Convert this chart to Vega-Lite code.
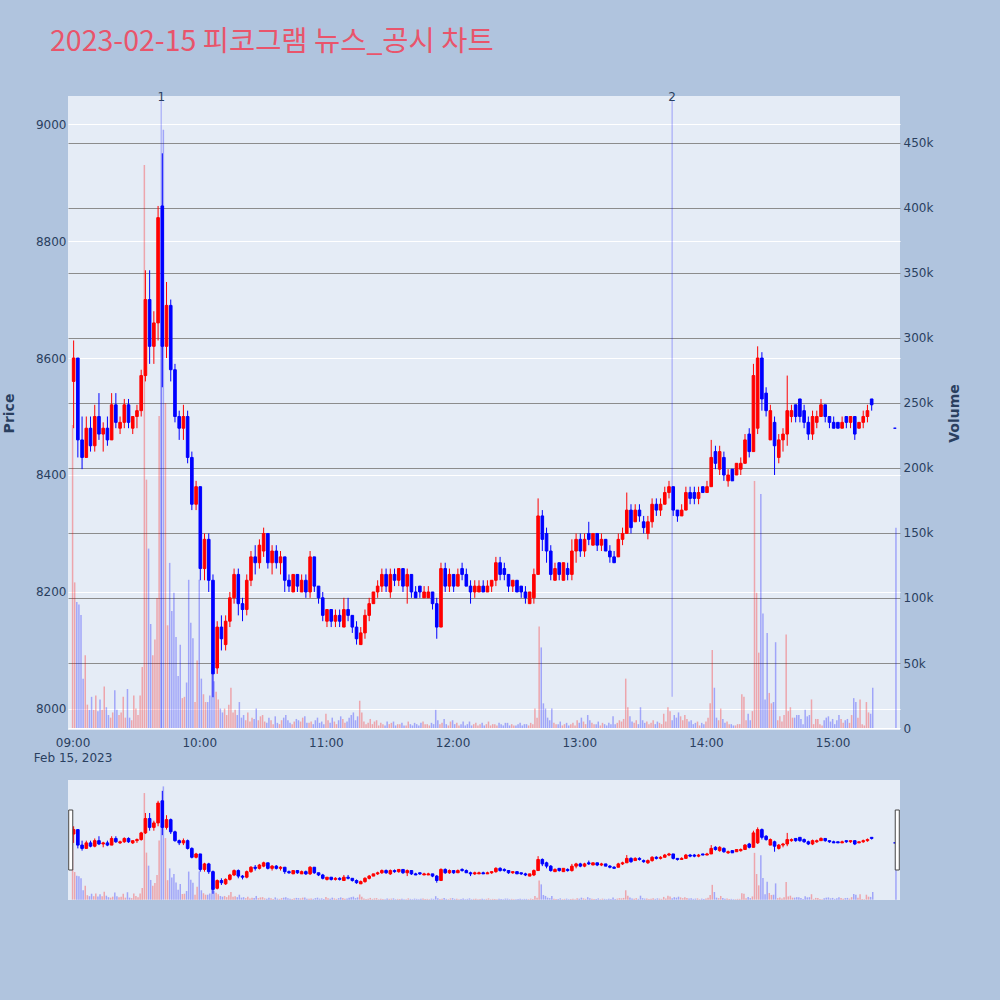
{
"$schema": "https://vega.github.io/schema/vega-lite/v6.json",
"background": "#B0C4DE",
"padding": {"left": 2, "top": 27, "right": 38, "bottom": 105},
"title": {"text": "2023-02-15 피코그램 뉴스_공시 차트", "anchor": "start", "frame": "group", "font": "Noto Sans CJK KR", "fontSize": 28.5, "fontWeight": "normal", "color": "#E9546B", "offset": 35, "dx": -18},
"datasets": {
"px": [
{"t":"2023-02-15T09:00","o":8560,"h":8630,"l":8480,"c":8600,"v1":233000,"v2":112000},
{"t":"2023-02-15T09:02","o":8600,"h":8600,"l":8430,"c":8460,"v1":97000,"v2":95000},
{"t":"2023-02-15T09:04","o":8460,"h":8500,"l":8410,"c":8430,"v1":87000,"v2":38000},
{"t":"2023-02-15T09:06","o":8430,"h":8500,"l":8430,"c":8480,"v1":56000,"v2":18000},
{"t":"2023-02-15T09:08","o":8480,"h":8500,"l":8440,"c":8450,"v1":14000,"v2":24000},
{"t":"2023-02-15T09:10","o":8450,"h":8520,"l":8440,"c":8500,"v1":14000,"v2":25000},
{"t":"2023-02-15T09:12","o":8500,"h":8540,"l":8460,"c":8470,"v1":13000,"v2":22000},
{"t":"2023-02-15T09:14","o":8470,"h":8490,"l":8440,"c":8480,"v1":14000,"v2":32000},
{"t":"2023-02-15T09:16","o":8480,"h":8500,"l":8450,"c":8460,"v1":16000,"v2":10000},
{"t":"2023-02-15T09:18","o":8460,"h":8540,"l":8460,"c":8520,"v1":8000,"v2":12000},
{"t":"2023-02-15T09:20","o":8520,"h":8540,"l":8480,"c":8490,"v1":29000,"v2":14000},
{"t":"2023-02-15T09:22","o":8480,"h":8500,"l":8470,"c":8490,"v1":10000,"v2":12000},
{"t":"2023-02-15T09:24","o":8490,"h":8530,"l":8480,"c":8520,"v1":24000,"v2":8000},
{"t":"2023-02-15T09:26","o":8520,"h":8530,"l":8480,"c":8490,"v1":30000,"v2":8000},
{"t":"2023-02-15T09:28","o":8480,"h":8500,"l":8470,"c":8500,"v1":6000,"v2":25000},
{"t":"2023-02-15T09:30","o":8500,"h":8520,"l":8480,"c":8510,"v1":15000,"v2":10000},
{"t":"2023-02-15T09:32","o":8510,"h":8580,"l":8500,"c":8570,"v1":25000,"v2":47000},
{"t":"2023-02-15T09:34","o":8570,"h":8750,"l":8560,"c":8700,"v1":433000,"v2":191000},
{"t":"2023-02-15T09:36","o":8700,"h":8750,"l":8590,"c":8620,"v1":138000,"v2":80000},
{"t":"2023-02-15T09:38","o":8620,"h":8680,"l":8590,"c":8660,"v1":56000,"v2":68000},
{"t":"2023-02-15T09:40","o":8660,"h":8860,"l":8630,"c":8840,"v1":100000,"v2":240000},
{"t":"2023-02-15T09:42","o":8860,"h":8950,"l":8550,"c":8620,"v1":300000,"v2":460000},
{"t":"2023-02-15T09:44","o":8620,"h":8730,"l":8600,"c":8690,"v1":250000,"v2":79000},
{"t":"2023-02-15T09:46","o":8690,"h":8700,"l":8560,"c":8580,"v1":127000,"v2":90000},
{"t":"2023-02-15T09:48","o":8580,"h":8590,"l":8490,"c":8500,"v1":104000,"v2":70000},
{"t":"2023-02-15T09:50","o":8500,"h":8510,"l":8460,"c":8480,"v1":40000,"v2":64000},
{"t":"2023-02-15T09:52","o":8480,"h":8520,"l":8460,"c":8500,"v1":23000,"v2":24000},
{"t":"2023-02-15T09:54","o":8500,"h":8510,"l":8420,"c":8430,"v1":35000,"v2":114000},
{"t":"2023-02-15T09:56","o":8430,"h":8440,"l":8340,"c":8350,"v1":81000,"v2":69000},
{"t":"2023-02-15T09:58","o":8350,"h":8390,"l":8340,"c":8380,"v1":20000,"v2":52000},
{"t":"2023-02-15T10:00","o":8380,"h":8380,"l":8220,"c":8240,"v1":114000,"v2":38000},
{"t":"2023-02-15T10:02","o":8240,"h":8300,"l":8220,"c":8290,"v1":26000,"v2":20000},
{"t":"2023-02-15T10:04","o":8290,"h":8300,"l":8200,"c":8220,"v1":20000,"v2":25000},
{"t":"2023-02-15T10:06","o":8220,"h":8230,"l":8020,"c":8060,"v1":42000,"v2":36000},
{"t":"2023-02-15T10:08","o":8070,"h":8150,"l":8060,"c":8140,"v1":28000,"v2":22000},
{"t":"2023-02-15T10:10","o":8140,"h":8160,"l":8100,"c":8120,"v1":15000,"v2":12000},
{"t":"2023-02-15T10:12","o":8110,"h":8160,"l":8100,"c":8150,"v1":15000,"v2":10000},
{"t":"2023-02-15T10:14","o":8150,"h":8200,"l":8140,"c":8190,"v1":18000,"v2":31000},
{"t":"2023-02-15T10:16","o":8190,"h":8240,"l":8180,"c":8230,"v1":12000,"v2":14000},
{"t":"2023-02-15T10:18","o":8230,"h":8240,"l":8160,"c":8180,"v1":10000,"v2":20000},
{"t":"2023-02-15T10:20","o":8180,"h":8190,"l":8150,"c":8170,"v1":8000,"v2":10000},
{"t":"2023-02-15T10:22","o":8170,"h":8230,"l":8160,"c":8220,"v1":6000,"v2":12000},
{"t":"2023-02-15T10:24","o":8220,"h":8270,"l":8210,"c":8260,"v1":5000,"v2":8000},
{"t":"2023-02-15T10:26","o":8260,"h":8280,"l":8230,"c":8250,"v1":7000,"v2":15000},
{"t":"2023-02-15T10:28","o":8250,"h":8290,"l":8240,"c":8280,"v1":6000,"v2":9000},
{"t":"2023-02-15T10:30","o":8270,"h":8310,"l":8260,"c":8300,"v1":10000,"v2":5000},
{"t":"2023-02-15T10:32","o":8300,"h":8300,"l":8240,"c":8250,"v1":4000,"v2":8000},
{"t":"2023-02-15T10:34","o":8250,"h":8280,"l":8230,"c":8270,"v1":6000,"v2":3000},
{"t":"2023-02-15T10:36","o":8270,"h":8280,"l":8240,"c":8250,"v1":9000,"v2":4000},
{"t":"2023-02-15T10:38","o":8250,"h":8270,"l":8230,"c":8260,"v1":3000,"v2":6000},
{"t":"2023-02-15T10:40","o":8260,"h":8260,"l":8200,"c":8220,"v1":8000,"v2":10000},
{"t":"2023-02-15T10:42","o":8220,"h":8230,"l":8200,"c":8210,"v1":6000,"v2":4000},
{"t":"2023-02-15T10:44","o":8200,"h":8230,"l":8200,"c":8230,"v1":3000,"v2":5000},
{"t":"2023-02-15T10:46","o":8230,"h":8230,"l":8200,"c":8210,"v1":7000,"v2":6000},
{"t":"2023-02-15T10:48","o":8200,"h":8230,"l":8200,"c":8220,"v1":5000,"v2":8000},
{"t":"2023-02-15T10:50","o":8220,"h":8230,"l":8190,"c":8200,"v1":9000,"v2":4000},
{"t":"2023-02-15T10:52","o":8200,"h":8270,"l":8190,"c":8260,"v1":4000,"v2":5000},
{"t":"2023-02-15T10:54","o":8260,"h":8260,"l":8200,"c":8210,"v1":3000,"v2":6000},
{"t":"2023-02-15T10:56","o":8210,"h":8210,"l":8180,"c":8190,"v1":8000,"v2":4000},
{"t":"2023-02-15T10:58","o":8190,"h":8200,"l":8150,"c":8160,"v1":5000,"v2":3000},
{"t":"2023-02-15T11:00","o":8150,"h":8170,"l":8140,"c":8170,"v1":11000,"v2":6000},
{"t":"2023-02-15T11:02","o":8170,"h":8170,"l":8140,"c":8150,"v1":4000,"v2":8000},
{"t":"2023-02-15T11:04","o":8150,"h":8170,"l":8140,"c":8160,"v1":5000,"v2":3000},
{"t":"2023-02-15T11:06","o":8160,"h":8170,"l":8140,"c":8150,"v1":6000,"v2":9000},
{"t":"2023-02-15T11:08","o":8140,"h":8190,"l":8140,"c":8170,"v1":7000,"v2":4000},
{"t":"2023-02-15T11:10","o":8170,"h":8190,"l":8150,"c":8160,"v1":5000,"v2":8000},
{"t":"2023-02-15T11:12","o":8160,"h":8160,"l":8130,"c":8140,"v1":10000,"v2":12000},
{"t":"2023-02-15T11:14","o":8140,"h":8150,"l":8110,"c":8120,"v1":6000,"v2":9000},
{"t":"2023-02-15T11:16","o":8110,"h":8140,"l":8110,"c":8130,"v1":21000,"v2":12000},
{"t":"2023-02-15T11:18","o":8130,"h":8170,"l":8120,"c":8160,"v1":5000,"v2":3000},
{"t":"2023-02-15T11:20","o":8160,"h":8190,"l":8150,"c":8180,"v1":4000,"v2":7000},
{"t":"2023-02-15T11:22","o":8180,"h":8200,"l":8180,"c":8200,"v1":3000,"v2":5000},
{"t":"2023-02-15T11:24","o":8200,"h":8220,"l":8190,"c":8210,"v1":6000,"v2":2000},
{"t":"2023-02-15T11:26","o":8210,"h":8240,"l":8200,"c":8230,"v1":4000,"v2":3000},
{"t":"2023-02-15T11:28","o":8230,"h":8240,"l":8200,"c":8210,"v1":2000,"v2":5000},
{"t":"2023-02-15T11:30","o":8200,"h":8240,"l":8190,"c":8230,"v1":3000,"v2":4000},
{"t":"2023-02-15T11:32","o":8230,"h":8240,"l":8210,"c":8220,"v1":5000,"v2":2000},
{"t":"2023-02-15T11:34","o":8220,"h":8240,"l":8210,"c":8240,"v1":3000,"v2":3000},
{"t":"2023-02-15T11:36","o":8240,"h":8240,"l":8200,"c":8210,"v1":4000,"v2":2000},
{"t":"2023-02-15T11:38","o":8210,"h":8240,"l":8180,"c":8230,"v1":2000,"v2":5000},
{"t":"2023-02-15T11:40","o":8230,"h":8230,"l":8190,"c":8200,"v1":3000,"v2":2000},
{"t":"2023-02-15T11:42","o":8200,"h":8210,"l":8190,"c":8190,"v1":4000,"v2":3000},
{"t":"2023-02-15T11:44","o":8210,"h":8210,"l":8190,"c":8200,"v1":2000,"v2":4000},
{"t":"2023-02-15T11:46","o":8190,"h":8210,"l":8190,"c":8200,"v1":5000,"v2":3000},
{"t":"2023-02-15T11:48","o":8190,"h":8210,"l":8190,"c":8200,"v1":3000,"v2":2000},
{"t":"2023-02-15T11:50","o":8200,"h":8200,"l":8170,"c":8180,"v1":4000,"v2":3000},
{"t":"2023-02-15T11:52","o":8180,"h":8190,"l":8120,"c":8140,"v1":14000,"v2":6000},
{"t":"2023-02-15T11:54","o":8140,"h":8250,"l":8140,"c":8240,"v1":3000,"v2":4000},
{"t":"2023-02-15T11:56","o":8240,"h":8250,"l":8200,"c":8210,"v1":7000,"v2":3000},
{"t":"2023-02-15T11:58","o":8210,"h":8240,"l":8200,"c":8230,"v1":2000,"v2":5000},
{"t":"2023-02-15T12:00","o":8230,"h":8230,"l":8200,"c":8210,"v1":6000,"v2":3000},
{"t":"2023-02-15T12:02","o":8210,"h":8240,"l":8210,"c":8230,"v1":4000,"v2":2000},
{"t":"2023-02-15T12:04","o":8240,"h":8250,"l":8220,"c":8230,"v1":3000,"v2":5000},
{"t":"2023-02-15T12:06","o":8230,"h":8240,"l":8210,"c":8210,"v1":2000,"v2":3000},
{"t":"2023-02-15T12:08","o":8210,"h":8220,"l":8180,"c":8200,"v1":5000,"v2":2000},
{"t":"2023-02-15T12:10","o":8200,"h":8220,"l":8190,"c":8210,"v1":3000,"v2":4000},
{"t":"2023-02-15T12:12","o":8200,"h":8220,"l":8200,"c":8210,"v1":2000,"v2":3000},
{"t":"2023-02-15T12:14","o":8210,"h":8220,"l":8200,"c":8200,"v1":4000,"v2":2000},
{"t":"2023-02-15T12:16","o":8200,"h":8220,"l":8200,"c":8210,"v1":3000,"v2":5000},
{"t":"2023-02-15T12:18","o":8210,"h":8220,"l":8200,"c":8220,"v1":2000,"v2":3000},
{"t":"2023-02-15T12:20","o":8220,"h":8260,"l":8210,"c":8250,"v1":3000,"v2":2000},
{"t":"2023-02-15T12:22","o":8250,"h":8260,"l":8220,"c":8230,"v1":4000,"v2":3000},
{"t":"2023-02-15T12:24","o":8240,"h":8250,"l":8220,"c":8230,"v1":2000,"v2":4000},
{"t":"2023-02-15T12:26","o":8230,"h":8230,"l":8200,"c":8210,"v1":4000,"v2":2000},
{"t":"2023-02-15T12:28","o":8210,"h":8220,"l":8200,"c":8220,"v1":3000,"v2":2000},
{"t":"2023-02-15T12:30","o":8220,"h":8220,"l":8200,"c":8200,"v1":2000,"v2":3000},
{"t":"2023-02-15T12:32","o":8210,"h":8210,"l":8190,"c":8200,"v1":4000,"v2":2000},
{"t":"2023-02-15T12:34","o":8200,"h":8210,"l":8180,"c":8190,"v1":3000,"v2":3000},
{"t":"2023-02-15T12:36","o":8180,"h":8200,"l":8180,"c":8200,"v1":2000,"v2":4000},
{"t":"2023-02-15T12:38","o":8190,"h":8240,"l":8180,"c":8230,"v1":3000,"v2":15000},
{"t":"2023-02-15T12:40","o":8230,"h":8360,"l":8230,"c":8330,"v1":8000,"v2":78000},
{"t":"2023-02-15T12:42","o":8330,"h":8340,"l":8270,"c":8290,"v1":62000,"v2":19000},
{"t":"2023-02-15T12:44","o":8300,"h":8310,"l":8250,"c":8270,"v1":15000,"v2":8000},
{"t":"2023-02-15T12:46","o":8270,"h":8280,"l":8220,"c":8230,"v1":6000,"v2":15000},
{"t":"2023-02-15T12:48","o":8220,"h":8250,"l":8220,"c":8240,"v1":4000,"v2":3000},
{"t":"2023-02-15T12:50","o":8250,"h":8250,"l":8220,"c":8230,"v1":3000,"v2":5000},
{"t":"2023-02-15T12:52","o":8220,"h":8250,"l":8220,"c":8250,"v1":2000,"v2":3000},
{"t":"2023-02-15T12:54","o":8240,"h":8250,"l":8220,"c":8230,"v1":4000,"v2":2000},
{"t":"2023-02-15T12:56","o":8230,"h":8290,"l":8220,"c":8270,"v1":3000,"v2":4000},
{"t":"2023-02-15T12:58","o":8270,"h":8300,"l":8250,"c":8290,"v1":2000,"v2":6000},
{"t":"2023-02-15T13:00","o":8290,"h":8300,"l":8260,"c":8270,"v1":4000,"v2":8000},
{"t":"2023-02-15T13:02","o":8270,"h":8300,"l":8260,"c":8290,"v1":5000,"v2":3000},
{"t":"2023-02-15T13:04","o":8300,"h":8320,"l":8280,"c":8290,"v1":10000,"v2":6000},
{"t":"2023-02-15T13:06","o":8280,"h":8300,"l":8280,"c":8300,"v1":4000,"v2":3000},
{"t":"2023-02-15T13:08","o":8300,"h":8300,"l":8270,"c":8280,"v1":3000,"v2":5000},
{"t":"2023-02-15T13:10","o":8280,"h":8300,"l":8270,"c":8290,"v1":2000,"v2":4000},
{"t":"2023-02-15T13:12","o":8290,"h":8290,"l":8270,"c":8270,"v1":3000,"v2":2000},
{"t":"2023-02-15T13:14","o":8270,"h":8280,"l":8250,"c":8260,"v1":4000,"v2":3000},
{"t":"2023-02-15T13:16","o":8260,"h":8270,"l":8250,"c":8250,"v1":9000,"v2":3000},
{"t":"2023-02-15T13:18","o":8260,"h":8300,"l":8260,"c":8290,"v1":4000,"v2":6000},
{"t":"2023-02-15T13:20","o":8290,"h":8310,"l":8280,"c":8300,"v1":5000,"v2":7000},
{"t":"2023-02-15T13:22","o":8300,"h":8370,"l":8300,"c":8340,"v1":38000,"v2":16000},
{"t":"2023-02-15T13:24","o":8340,"h":8350,"l":8300,"c":8310,"v1":9000,"v2":5000},
{"t":"2023-02-15T13:26","o":8320,"h":8350,"l":8320,"c":8340,"v1":4000,"v2":6000},
{"t":"2023-02-15T13:28","o":8340,"h":8350,"l":8320,"c":8330,"v1":3000,"v2":16000},
{"t":"2023-02-15T13:30","o":8320,"h":8330,"l":8300,"c":8310,"v1":6000,"v2":4000},
{"t":"2023-02-15T13:32","o":8300,"h":8330,"l":8290,"c":8320,"v1":5000,"v2":3000},
{"t":"2023-02-15T13:34","o":8320,"h":8360,"l":8310,"c":8350,"v1":4000,"v2":6000},
{"t":"2023-02-15T13:36","o":8350,"h":8360,"l":8330,"c":8340,"v1":3000,"v2":5000},
{"t":"2023-02-15T13:38","o":8340,"h":8360,"l":8330,"c":8350,"v1":4000,"v2":3000},
{"t":"2023-02-15T13:40","o":8350,"h":8380,"l":8350,"c":8370,"v1":11000,"v2":5000},
{"t":"2023-02-15T13:42","o":8370,"h":8390,"l":8360,"c":8380,"v1":16000,"v2":13000},
{"t":"2023-02-15T13:44","o":8380,"h":8380,"l":8330,"c":8340,"v1":6000,"v2":10000},
{"t":"2023-02-15T13:46","o":8340,"h":8340,"l":8320,"c":8330,"v1":8000,"v2":12000},
{"t":"2023-02-15T13:48","o":8330,"h":8350,"l":8330,"c":8340,"v1":9000,"v2":6000},
{"t":"2023-02-15T13:50","o":8340,"h":8380,"l":8340,"c":8370,"v1":10000,"v2":7000},
{"t":"2023-02-15T13:52","o":8370,"h":8380,"l":8350,"c":8360,"v1":5000,"v2":6000},
{"t":"2023-02-15T13:54","o":8370,"h":8380,"l":8350,"c":8360,"v1":3000,"v2":4000},
{"t":"2023-02-15T13:56","o":8360,"h":8380,"l":8350,"c":8370,"v1":5000,"v2":2000},
{"t":"2023-02-15T13:58","o":8380,"h":8380,"l":8370,"c":8370,"v1":4000,"v2":3000},
{"t":"2023-02-15T14:00","o":8370,"h":8390,"l":8370,"c":8380,"v1":5000,"v2":8000},
{"t":"2023-02-15T14:02","o":8380,"h":8460,"l":8380,"c":8430,"v1":19000,"v2":60000},
{"t":"2023-02-15T14:04","o":8440,"h":8450,"l":8410,"c":8420,"v1":31000,"v2":8000},
{"t":"2023-02-15T14:06","o":8410,"h":8450,"l":8400,"c":8440,"v1":6000,"v2":15000},
{"t":"2023-02-15T14:08","o":8430,"h":8440,"l":8390,"c":8400,"v1":7000,"v2":4000},
{"t":"2023-02-15T14:10","o":8390,"h":8410,"l":8380,"c":8400,"v1":5000,"v2":3000},
{"t":"2023-02-15T14:12","o":8410,"h":8410,"l":8390,"c":8390,"v1":3000,"v2":2000},
{"t":"2023-02-15T14:14","o":8400,"h":8420,"l":8400,"c":8420,"v1":2000,"v2":3000},
{"t":"2023-02-15T14:16","o":8410,"h":8430,"l":8400,"c":8420,"v1":3000,"v2":26000},
{"t":"2023-02-15T14:18","o":8420,"h":8470,"l":8420,"c":8460,"v1":24000,"v2":6000},
{"t":"2023-02-15T14:20","o":8470,"h":8480,"l":8430,"c":8440,"v1":11000,"v2":6000},
{"t":"2023-02-15T14:22","o":8440,"h":8590,"l":8440,"c":8570,"v1":13000,"v2":190000},
{"t":"2023-02-15T14:24","o":8480,"h":8620,"l":8470,"c":8600,"v1":104000,"v2":58000},
{"t":"2023-02-15T14:26","o":8600,"h":8610,"l":8510,"c":8530,"v1":180000,"v2":88000},
{"t":"2023-02-15T14:28","o":8540,"h":8550,"l":8500,"c":8510,"v1":22000,"v2":73000},
{"t":"2023-02-15T14:30","o":8460,"h":8520,"l":8460,"c":8510,"v1":27000,"v2":19000},
{"t":"2023-02-15T14:32","o":8490,"h":8500,"l":8400,"c":8450,"v1":20000,"v2":66000},
{"t":"2023-02-15T14:34","o":8430,"h":8470,"l":8420,"c":8460,"v1":6000,"v2":9000},
{"t":"2023-02-15T14:36","o":8460,"h":8480,"l":8440,"c":8470,"v1":5000,"v2":10000},
{"t":"2023-02-15T14:38","o":8470,"h":8570,"l":8450,"c":8510,"v1":72000,"v2":13000},
{"t":"2023-02-15T14:40","o":8500,"h":8520,"l":8490,"c":8510,"v1":16000,"v2":8000},
{"t":"2023-02-15T14:42","o":8520,"h":8520,"l":8490,"c":8500,"v1":8000,"v2":10000},
{"t":"2023-02-15T14:44","o":8530,"h":8530,"l":8490,"c":8500,"v1":10000,"v2":7000},
{"t":"2023-02-15T14:46","o":8510,"h":8520,"l":8480,"c":8490,"v1":3000,"v2":14000},
{"t":"2023-02-15T14:48","o":8490,"h":8500,"l":8460,"c":8470,"v1":9000,"v2":10000},
{"t":"2023-02-15T14:50","o":8470,"h":8510,"l":8460,"c":8500,"v1":22000,"v2":3000},
{"t":"2023-02-15T14:52","o":8490,"h":8510,"l":8480,"c":8500,"v1":7000,"v2":7000},
{"t":"2023-02-15T14:54","o":8500,"h":8530,"l":8500,"c":8520,"v1":3000,"v2":2000},
{"t":"2023-02-15T14:56","o":8520,"h":8520,"l":8490,"c":8500,"v1":6000,"v2":8000},
{"t":"2023-02-15T14:58","o":8500,"h":8500,"l":8480,"c":8490,"v1":9000,"v2":5000},
{"t":"2023-02-15T15:00","o":8490,"h":8500,"l":8480,"c":8480,"v1":7000,"v2":3000},
{"t":"2023-02-15T15:02","o":8490,"h":8490,"l":8480,"c":8480,"v1":6000,"v2":10000},
{"t":"2023-02-15T15:04","o":8480,"h":8500,"l":8480,"c":8490,"v1":7000,"v2":4000},
{"t":"2023-02-15T15:06","o":8500,"h":8500,"l":8480,"c":8490,"v1":6000,"v2":7000},
{"t":"2023-02-15T15:08","o":8490,"h":8500,"l":8480,"c":8500,"v1":4000,"v2":10000},
{"t":"2023-02-15T15:10","o":8500,"h":8500,"l":8460,"c":8470,"v1":23000,"v2":20000},
{"t":"2023-02-15T15:12","o":8480,"h":8490,"l":8480,"c":8490,"v1":8000,"v2":22000},
{"t":"2023-02-15T15:14","o":8490,"h":8510,"l":8480,"c":8500,"v1":3000,"v2":2000},
{"t":"2023-02-15T15:16","o":8500,"h":8520,"l":8490,"c":8510,"v1":20000,"v2":12000},
{"t":"2023-02-15T15:18","o":8530,"h":8530,"l":8510,"c":8520,"v1":11000,"v2":31000},
{"t":"2023-02-15T15:29","o":8480,"h":8480,"l":8480,"c":8480,"v2":154000}
],
"ev": [
{"t":"2023-02-15T09:42","n":"1","b":0,"e":483000},
{"t":"2023-02-15T13:44","n":"2","b":24000,"e":483000}
],
"hd": [
{"a":"2023-02-15T08:58:10","b":"2023-02-15T09:00:05","lo":8235,"hi":8777},
{"a":"2023-02-15T15:29:40","b":"2023-02-15T15:31:35","lo":8235,"hi":8777}
]
},
"spacing": 50,
"bounds": "flush",
"vconcat": [
{
"width": 832, "height": 634,
"encoding": {"x": {"field": "t", "type": "temporal", "scale": {"padding": 0, "nice": false, "domain": [{"year":2023,"month":2,"date":15,"hours":8,"minutes":57,"seconds":50},{"year":2023,"month":2,"date":15,"hours":15,"minutes":31,"seconds":55}]}, "axis": {"title": null, "grid": false, "format": "%H:%M", "labelFlush": false, "labelPadding": 7, "labelLineHeight": 15, "values": [{"year":2023,"month":2,"date":15,"hours":9},{"year":2023,"month":2,"date":15,"hours":10},{"year":2023,"month":2,"date":15,"hours":11},{"year":2023,"month":2,"date":15,"hours":12},{"year":2023,"month":2,"date":15,"hours":13},{"year":2023,"month":2,"date":15,"hours":14},{"year":2023,"month":2,"date":15,"hours":15}], "labelExpr": "hours(datum.value) == 9 ? [datum.label, 'Feb 15, 2023'] : datum.label"}}},
"layer": [
{"layer": [
{"data": {"name": "px"}, "mark": {"type": "bar", "size": 1.5, "opacity": 0.3}, "encoding": {"y": {"field": "v1", "type": "quantitative", "scale": {"domain": [-1500, 486000], "nice": false, "zero": false}, "axis": {"orient": "right", "title": "Volume", "values": [0,50000,100000,150000,200000,250000,300000,350000,400000,450000], "format": "~s", "labelExpr": "datum.value == 0 ? '0' : datum.label", "grid": true, "gridColor": {"condition": {"test": "datum.value === 0", "value": "#ffffff"}, "value": "#8c8c8c"}, "gridWidth": 1.2, "labelPadding": 3, "titlePadding": 29, "titleAngle": 270}}, "y2": {"datum": 0}, "color": {"condition": {"test": "datum.c > datum.o", "value": "#ff0000"}, "value": "#0000ff"}}},
{"data": {"name": "px"}, "mark": {"type": "bar", "size": 1.5, "opacity": 0.3, "xOffset": 2.111}, "encoding": {"y": {"field": "v2", "type": "quantitative"}, "y2": {"datum": 0}, "color": {"condition": {"test": "datum.c > datum.o", "value": "#ff0000"}, "value": "#0000ff"}}},
{"data": {"name": "ev"}, "mark": {"type": "rule", "color": "#0000ff", "opacity": 0.22, "strokeWidth": 1.5}, "encoding": {"y": {"field": "b", "type": "quantitative"}, "y2": {"field": "e"}}},
{"data": {"name": "ev"}, "mark": {"type": "text", "fontSize": 12, "color": "#2a3f5f", "baseline": "middle", "font": "DejaVu Sans"}, "encoding": {"y": {"datum": 485000}, "text": {"field": "n"}}}
]},
{"layer": [
{"data": {"name": "px"}, "mark": {"type": "rule", "strokeWidth": 1, "xOffset": 1.056}, "encoding": {"y": {"field": "l", "type": "quantitative", "scale": {"domain": [7964, 9048], "nice": false, "zero": false}, "axis": {"orient": "left", "title": "Price", "values": [8000,8200,8400,8600,8800,9000], "format": "d", "grid": true, "gridColor": "#ffffff", "gridWidth": 1, "labelPadding": 2, "titlePadding": 19}}, "y2": {"field": "h"}, "color": {"condition": {"test": "datum.c > datum.o", "value": "#ff0000"}, "value": "#0000ff"}}},
{"data": {"name": "px"}, "mark": {"type": "bar", "size": 2.6, "strokeWidth": 1, "xOffset": 1.056}, "encoding": {"y": {"field": "o", "type": "quantitative"}, "y2": {"field": "c"}, "color": {"condition": {"test": "datum.c > datum.o", "value": "#ff0000"}, "value": "#0000ff"}, "stroke": {"condition": {"test": "datum.c > datum.o", "value": "#ff0000"}, "value": "#0000ff"}}}
]}
],
"resolve": {"scale": {"y": "independent"}}
},
{
"width": 832, "height": 120,
"encoding": {"x": {"field": "t", "type": "temporal", "scale": {"padding": 0, "nice": false, "domain": [{"year":2023,"month":2,"date":15,"hours":8,"minutes":57,"seconds":50},{"year":2023,"month":2,"date":15,"hours":15,"minutes":31,"seconds":55}]}, "axis": null}},
"layer": [
{"layer": [
{"data": {"name": "px"}, "mark": {"type": "bar", "size": 1.5, "opacity": 0.3}, "encoding": {"y": {"field": "v1", "type": "quantitative", "scale": {"domain": [-1500, 486000], "nice": false, "zero": false}, "axis": null}, "y2": {"datum": 0}, "color": {"condition": {"test": "datum.c > datum.o", "value": "#ff0000"}, "value": "#0000ff"}}},
{"data": {"name": "px"}, "mark": {"type": "bar", "size": 1.5, "opacity": 0.3, "xOffset": 2.111}, "encoding": {"y": {"field": "v2", "type": "quantitative", "axis": null}, "y2": {"datum": 0}, "color": {"condition": {"test": "datum.c > datum.o", "value": "#ff0000"}, "value": "#0000ff"}}}
]},
{"layer": [
{"data": {"name": "px"}, "mark": {"type": "rule", "strokeWidth": 1, "xOffset": 1.056}, "encoding": {"y": {"field": "l", "type": "quantitative", "scale": {"domain": [7964, 9048], "nice": false, "zero": false}, "axis": null}, "y2": {"field": "h"}, "color": {"condition": {"test": "datum.c > datum.o", "value": "#ff0000"}, "value": "#0000ff"}}},
{"data": {"name": "px"}, "mark": {"type": "bar", "size": 2.6, "strokeWidth": 1, "xOffset": 1.056}, "encoding": {"y": {"field": "o", "type": "quantitative", "axis": null}, "y2": {"field": "c"}, "color": {"condition": {"test": "datum.c > datum.o", "value": "#ff0000"}, "value": "#0000ff"}, "stroke": {"condition": {"test": "datum.c > datum.o", "value": "#ff0000"}, "value": "#0000ff"}}},
{"data": {"name": "hd"}, "mark": {"type": "rect", "fill": "#ffffff", "stroke": "#444444", "strokeWidth": 1}, "encoding": {"x": {"field": "a", "type": "temporal"}, "x2": {"field": "b"}, "y": {"field": "lo", "type": "quantitative", "axis": null}, "y2": {"field": "hi"}}}
]}
],
"resolve": {"scale": {"y": "independent"}}
}
],
"config": {
"view": {"fill": "#E5ECF6", "stroke": null},
"axis": {"domain": false, "ticks": false, "tickSize": 0, "labelFont": "DejaVu Sans", "labelFontSize": 12, "labelColor": "#2a3f5f", "titleFont": "DejaVu Sans", "titleFontSize": 14, "titleFontWeight": "bold", "titleColor": "#2a3f5f"}
}
}
